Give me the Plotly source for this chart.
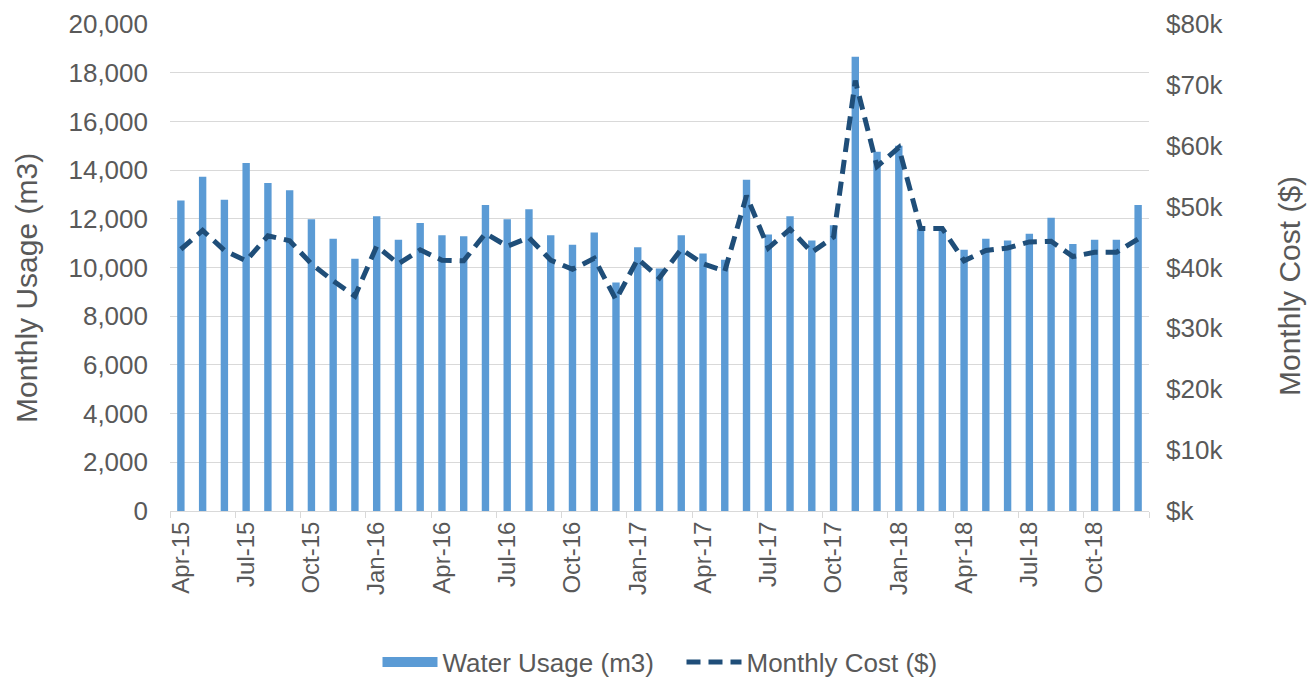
import plotly.graph_objects as go

months = ["Apr-15", "May-15", "Jun-15", "Jul-15", "Aug-15", "Sep-15", "Oct-15", "Nov-15", "Dec-15",
          "Jan-16", "Feb-16", "Mar-16", "Apr-16", "May-16", "Jun-16", "Jul-16", "Aug-16", "Sep-16",
          "Oct-16", "Nov-16", "Dec-16",
          "Jan-17", "Feb-17", "Mar-17", "Apr-17", "May-17", "Jun-17", "Jul-17", "Aug-17", "Sep-17",
          "Oct-17", "Nov-17", "Dec-17",
          "Jan-18", "Feb-18", "Mar-18", "Apr-18", "May-18", "Jun-18", "Jul-18", "Aug-18", "Sep-18",
          "Oct-18", "Nov-18", "Dec-18"]

water_usage_m3 = [12750, 13730, 12780, 14290, 13470, 13170, 11980, 11180, 10360,
                  12100, 11140, 11830, 11320, 11280, 12570, 11980, 12390, 11320, 10930, 11440, 9380,
                  10830, 9960, 11320, 10580, 10320, 13600, 11360, 12100, 11110, 11730, 18650, 14750,
                  15000, 11590, 11530, 10730, 11180, 11110, 11390, 12040, 10970, 11140, 11140, 12570]

monthly_cost_usd = [43000, 46100, 42800, 41100, 45200, 44400, 40600, 37800, 35300,
                    43500, 40600, 42900, 41200, 41100, 45600, 43500, 44900, 41200, 39700, 41500, 34700,
                    41400, 38300, 43000, 40600, 39400, 51800, 43200, 46300, 42500, 45000, 70700, 56600,
                    59700, 46400, 46400, 41100, 42800, 43200, 44200, 44300, 41800, 42500, 42500, 44700]

cost_tick_vals = [0, 10000, 20000, 30000, 40000, 50000, 60000, 70000, 80000]
cost_tick_text = ["$k", "$10k", "$20k", "$30k", "$40k", "$50k", "$60k", "$70k", "$80k"]

left_title = "Monthly Usage (m3)"
right_title = "Monthly Cost ($)"

FONT = "Liberation Sans, Arial, sans-serif"
TXT = "#595959"
BAR_COLOR = "#5B9BD5"
LINE_COLOR = "#1F4E79"

fig = go.Figure()
fig.add_trace(go.Bar(
    x=months, y=water_usage_m3, name="Water Usage (m3)", showlegend=False,
    marker=dict(color=BAR_COLOR, line=dict(width=0)),
))
# legend-only entry giving the wide rectangular swatch of the bars
fig.add_trace(go.Scatter(
    x=[None], y=[None], name="Water Usage (m3)", mode="lines",
    line=dict(color=BAR_COLOR, width=13), hoverinfo="skip",
))
fig.add_trace(go.Scatter(
    x=months, y=monthly_cost_usd, name="Monthly Cost ($)", yaxis="y2",
    mode="lines", line=dict(color=LINE_COLOR, width=5, dash="14px,8px"),
))

fig.update_layout(
    width=1307, height=671,
    margin=dict(l=162, r=166, t=16, b=168),
    paper_bgcolor="white", plot_bgcolor="white",
    font=dict(family=FONT, color=TXT, size=26),
    bargap=0.66,
    showlegend=True,
    legend=dict(orientation="h", x=0.5153, xanchor="center", xref="container",
                y=0.0253, yanchor="middle", yref="container", entrywidth=234,
                font=dict(size=26, color=TXT), itemwidth=55, traceorder="normal"),
    xaxis=dict(
        type="category", tickmode="linear", tick0=0, dtick=3, automargin=False,
        tickson="boundaries", ticks="outside", ticklen=6, tickcolor="#D9D9D9",
        showline=True, linecolor="#D9D9D9", linewidth=1,
        tickangle=-90, tickfont=dict(size=24, color=TXT),
        showgrid=False, range=[-0.5, 44.5],
    ),
    yaxis=dict(
        range=[0, 20000], dtick=2000, tickformat=",d", automargin=False,
        showgrid=True, gridcolor="#D9D9D9", gridwidth=1,
        zeroline=False, showline=False, ticks="",
        ticklabelstandoff=21,
        tickfont=dict(size=26, color=TXT),
    ),
    yaxis2=dict(
        overlaying="y", side="right", range=[0, 80000], automargin=False,
        tickmode="array", tickvals=cost_tick_vals, ticktext=cost_tick_text,
        showgrid=False, zeroline=False, showline=False, ticks="",
        ticklabelstandoff=16,
        tickfont=dict(size=26, color=TXT),
    ),
    annotations=[
        dict(text=left_title, textangle=-90, xref="paper", yref="paper",
             x=-0.1461, y=0.458, xanchor="center", yanchor="middle", showarrow=False,
             font=dict(size=30, color=TXT)),
        dict(text=right_title, textangle=-90, xref="paper", yref="paper",
             x=1.1430, y=0.462, xanchor="center", yanchor="middle", showarrow=False,
             font=dict(size=30, color=TXT)),
    ],
)

fig.write_html("out.html")
